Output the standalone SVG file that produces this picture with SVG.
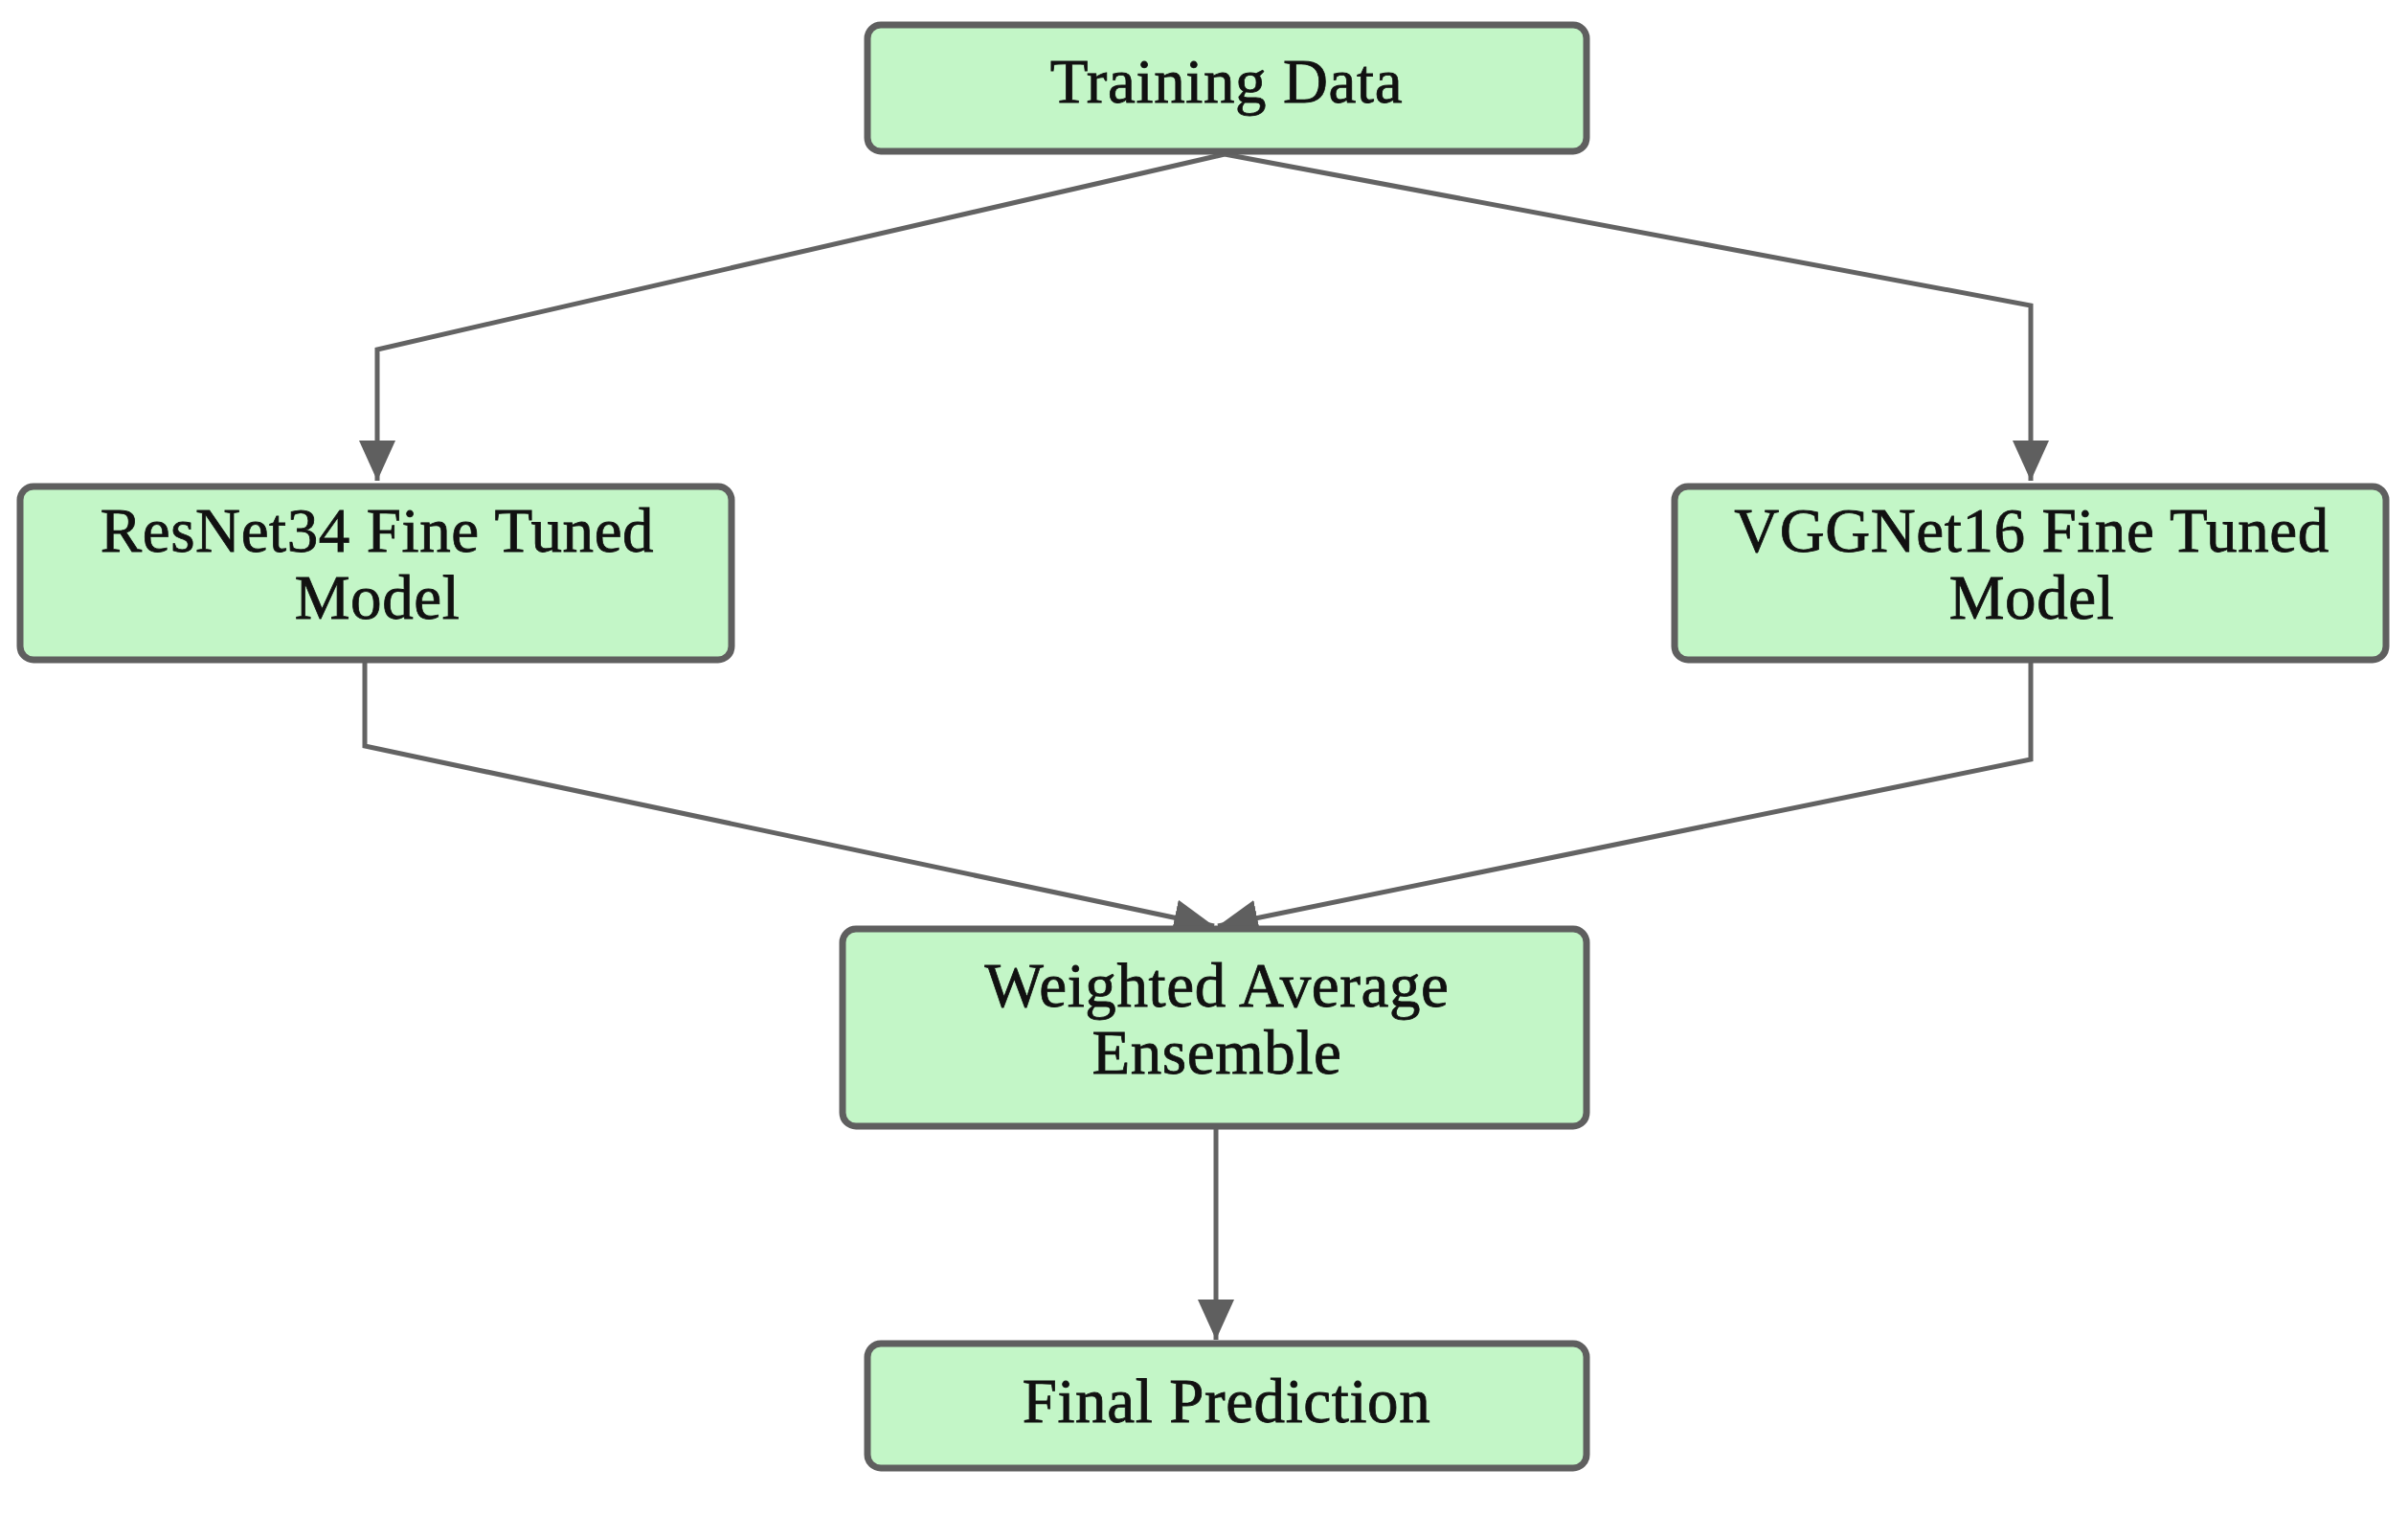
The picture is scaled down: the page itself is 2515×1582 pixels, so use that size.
<svg xmlns="http://www.w3.org/2000/svg" width="2515" height="1582" viewBox="0 0 2515 1582">
<style>
.box{fill:#c3f6c7;stroke:#5f5f5f;stroke-width:7}
.lbl{font-family:"Liberation Serif","Times New Roman",serif;font-size:65px;letter-spacing:0.6px;fill:#111;stroke:#111;stroke-width:0.8;text-anchor:middle}
.con{fill:none;stroke:#636363;stroke-width:5}
</style>
<defs>
<marker id="arr" markerUnits="userSpaceOnUse" markerWidth="44" markerHeight="40" refX="42" refY="19" orient="auto">
<path d="M0,0 L42,19 L0,38 Z" fill="#5f5f5f"/>
</marker>
</defs>
<rect width="2515" height="1582" fill="#fff"/>
<g id="connectors">
<polyline class="con" points="1279,161 394,365 394,502" marker-end="url(#arr)"/>
<polyline class="con" points="1279,161 2121,319 2121,502" marker-end="url(#arr)"/>
<polyline class="con" points="381,692 381,779 1268,967" marker-end="url(#arr)"/>
<polyline class="con" points="2121,692 2121,793 1272,967" marker-end="url(#arr)"/>
<polyline class="con" points="1270,1179 1270,1399" marker-end="url(#arr)"/>
</g>
<g id="training">
<rect class="box" x="906" y="26" width="751" height="132" rx="14"/>
<text class="lbl" x="1281" y="107">Training Data</text>
</g>
<g id="resnet">
<rect class="box" x="21" y="508" width="743" height="181" rx="14"/>
<text class="lbl" x="394" y="576">ResNet34 Fine Tuned</text>
<text class="lbl" x="394" y="646">Model</text>
</g>
<g id="vgg">
<rect class="box" x="1749" y="508" width="743" height="181" rx="14"/>
<text class="lbl" x="2122" y="576">VGGNet16 Fine Tuned</text>
<text class="lbl" x="2122" y="646">Model</text>
</g>
<g id="ensemble">
<rect class="box" x="880" y="970" width="777" height="206" rx="14"/>
<text class="lbl" x="1271" y="1051">Weighted Average</text>
<text class="lbl" x="1271" y="1121">Ensemble</text>
</g>
<g id="final">
<rect class="box" x="906" y="1403" width="751" height="130" rx="14"/>
<text class="lbl" x="1281" y="1485">Final Prediction</text>
</g>
</svg>
